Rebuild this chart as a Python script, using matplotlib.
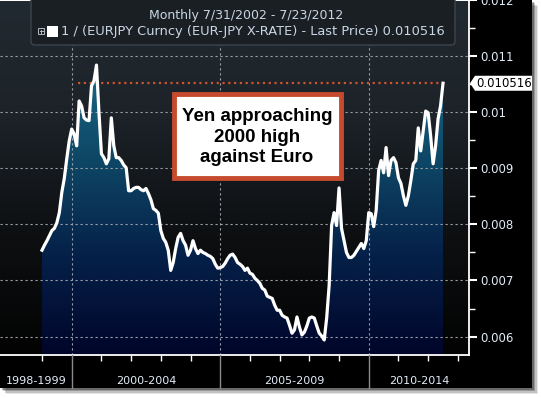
import numpy as np
import matplotlib
matplotlib.use("Agg")
import matplotlib.pyplot as plt
from matplotlib.colors import LinearSegmentedColormap
from matplotlib.patches import Rectangle, FancyBboxPatch, Polygon
from matplotlib.lines import Line2D

# monthly 1/EURJPY, Jan 1999 .. Jul 2012
first_year = 1999
rate = [
    # 1999
    0.00754, 0.00763, 0.00771, 0.00780, 0.00789, 0.00793, 0.00803, 0.00821, 0.00857, 0.00882, 0.00917, 0.00949,
    # 2000
    0.00970, 0.00961, 0.00940, 0.01020, 0.01011, 0.00990, 0.00986, 0.00985, 0.01047, 0.01056, 0.01084, 0.01000,
    # 2001
    0.00926, 0.00919, 0.00908, 0.00917, 0.00990, 0.00940, 0.00919, 0.00919, 0.00914, 0.00906, 0.00901, 0.00860,
    # 2002
    0.00860, 0.00864, 0.00866, 0.00866, 0.00862, 0.00860, 0.00864, 0.00855, 0.00844, 0.00828, 0.00825, 0.00820,
    # 2003
    0.00789, 0.00775, 0.00768, 0.00754, 0.00718, 0.00732, 0.00757, 0.00777, 0.00784, 0.00771, 0.00763, 0.00745,
    # 2004
    0.00754, 0.00771, 0.00757, 0.00748, 0.00754, 0.00750, 0.00748, 0.00745, 0.00743, 0.00739, 0.00729, 0.00722,
    # 2005
    0.00723, 0.00725, 0.00731, 0.00739, 0.00745, 0.00747, 0.00741, 0.00732, 0.00729, 0.00725, 0.00718, 0.00722,
    # 2006
    0.00713, 0.00711, 0.00704, 0.00700, 0.00695, 0.00686, 0.00683, 0.00672, 0.00670, 0.00668, 0.00656, 0.00647,
    # 2007
    0.00647, 0.00638, 0.00635, 0.00633, 0.00620, 0.00606, 0.00612, 0.00635, 0.00617, 0.00603, 0.00608, 0.00619,
    # 2008
    0.00633, 0.00635, 0.00633, 0.00619, 0.00606, 0.00601, 0.00594, 0.00633, 0.00691, 0.00798, 0.00821, 0.00798,
    # 2009
    0.00865, 0.00793, 0.00771, 0.00750, 0.00741, 0.00741, 0.00745, 0.00752, 0.00759, 0.00766, 0.00757, 0.00771,
    # 2010
    0.00821, 0.00819, 0.00796, 0.00825, 0.00896, 0.00914, 0.00892, 0.00937, 0.00887, 0.00914, 0.00919, 0.00910,
    # 2011
    0.00883, 0.00873, 0.00851, 0.00834, 0.00851, 0.00878, 0.00908, 0.00914, 0.00972, 0.00931, 0.00967, 0.01002,
    # 2012
    0.00999, 0.00958, 0.00908, 0.00940, 0.00988, 0.01011, 0.010516,
]
last_price = 0.010516

year_ticks = list(range(1999, 2014))
separators = [2000, 2005, 2010]
period_labels = ["1998-1999", "2000-2004", "2005-2009", "2010-2014"]
y_ticks = [0.006, 0.007, 0.008, 0.009, 0.01, 0.011, 0.012]
y_tick_labels = ["0.006", "0.007", "0.008", "0.009", "0.01", "0.011", "0.012"]
header = "Monthly 7/31/2002 - 7/23/2012"
legend_text = "1 / (EURJPY Curncy (EUR-JPY X-RATE) - Last Price) 0.010516"
note = "Yen approaching\n2000 high\nagainst Euro"

W, H = 541, 398
def fx(x): return x / W
def fy(y): return 1 - y / H

def m(yr):
    return (yr - first_year) * 12

fig = plt.figure(figsize=(W / 100, H / 100), dpi=100)
fig.patch.set_facecolor("white")

# drop shadow + black panel
for k, a in enumerate([0.10, 0.15, 0.22, 0.30]):
    off = 6 - k * 1.5
    fig.patches.append(Rectangle((fx(off), fy(388 + off)), fx(532), 388 / H,
                                 transform=fig.transFigure, color="black",
                                 alpha=a, lw=0, zorder=-3))
fig.patches.append(Rectangle((0, fy(388)), fx(532), 388 / H, transform=fig.transFigure,
                             color="black", lw=0, zorder=-2))

ax = fig.add_axes([0, fy(355), fx(469), 355 / H])
ax.set_zorder(1)
x = np.arange(len(rate))
xmin, xmax = -16.97, 172.5
ymin, ymax = 0.005672, 0.011977

# background gradient
bg = LinearSegmentedColormap.from_list("bg", ["#030303", "#0d0f11", "#1c2228", "#222a31"])
ax.imshow(np.linspace(0, 1, 256).reshape(-1, 1), extent=[xmin, xmax, ymin, ymax],
          origin="lower", aspect="auto", cmap=bg, zorder=0)

# gradient fill under the line
poly = ax.fill_between(x, rate, ymin, color="none", lw=0)
fill_cmap = LinearSegmentedColormap.from_list("fill", ["#01052a", "#052048", "#0e4766", "#1a6886"])
im = ax.imshow(np.linspace(0, 1, 256).reshape(-1, 1), extent=[x[0], x[-1], ymin, 0.0109],
               origin="lower", aspect="auto", cmap=fill_cmap, zorder=1)
im.set_clip_path(poly.get_paths()[0], transform=ax.transData)

# grid
for v in y_ticks[:-1]:
    ax.axhline(v, color="#9aa0a8", lw=0.8, ls=(0, (2, 2.5)), zorder=1.5)
for s in separators:
    ax.axvline(m(s), color="#9aa0a8", lw=0.8, ls=(0, (2, 2.5)), zorder=1.5)

ax.plot(x, rate, color="white", lw=2.3, zorder=3, solid_joinstyle="round")
ax.plot([14.5, 163.6], [last_price, last_price], color="#d0522e", lw=1.6,
        ls=(0, (1, 1.6)), zorder=2.5)

ax.set_xlim(xmin, xmax)
ax.set_ylim(ymin, ymax)

for sp in ["left", "top"]:
    ax.spines[sp].set_visible(False)
for sp in ["right", "bottom"]:
    ax.spines[sp].set_color("white")
    ax.spines[sp].set_linewidth(1.3)

ax.yaxis.tick_right()
ax.set_yticks(y_ticks)
ax.set_yticklabels(y_tick_labels)
ax.set_yticks([v + 0.0005 for v in y_ticks[:-1]], minor=True)
ax.tick_params(axis="y", which="major", colors="white", length=6, width=1.5,
               labelcolor="#e2ecf8", labelsize=8.5, pad=2)
ax.tick_params(axis="y", which="minor", colors="white", length=4, width=1)
for lbl in ax.get_yticklabels():
    lbl.set_clip_on(False)

ax.set_xticks([m(y) for y in year_ticks if y not in separators])
ax.set_xticklabels([])
ax.tick_params(axis="x", colors="white", length=4, width=1)

# period separators and labels below the axis
for s in separators:
    xp = ax.transData.transform((m(s), ymin))[0]
    fig.add_artist(Line2D([xp / W, xp / W], [fy(355), fy(388)], transform=fig.transFigure,
                          color="#8a8a8a", lw=1, zorder=2))
bounds = [0] + [ax.transData.transform((m(s), ymin))[0] for s in separators] + [469]
for lab, a, b in zip(period_labels, bounds[:-1], bounds[1:]):
    fig.text(fx((a + b) / 2), fy(381), lab, ha="center", va="center",
             color="#e2ecf8", fontsize=8, zorder=2)

# header legend box
fig.patches.append(FancyBboxPatch((fx(31), fy(45)), fx(424), 55 / H,
                                  boxstyle="round,pad=0,rounding_size=0.008",
                                  transform=fig.transFigure, fc="#1a1f24",
                                  ec="#3c444c", lw=1, zorder=5))
fig.text(fx(246), fy(15), header, ha="center", va="center", color="#c8d6e4",
         fontsize=9, zorder=6)
fig.patches.append(Rectangle((fx(38), fy(34)), fx(6), 6 / H, transform=fig.transFigure,
                             fc="none", ec="#b0b8c0", lw=0.7, zorder=6))
fig.add_artist(Line2D([fx(39.5), fx(42.5)], [fy(31), fy(31)], transform=fig.transFigure,
                      color="#b0b8c0", lw=0.7, zorder=6))
fig.add_artist(Line2D([fx(41), fx(41)], [fy(29.5), fy(32.5)], transform=fig.transFigure,
                      color="#b0b8c0", lw=0.7, zorder=6))
fig.patches.append(Rectangle((fx(47), fy(37)), fx(11), 11 / H, transform=fig.transFigure,
                             fc="white", lw=0, zorder=6))
fig.text(fx(61), fy(32), legend_text, ha="left", va="center", color="#c8d6e4",
         fontsize=9.4, zorder=6)

# annotation
fig.patches.append(Rectangle((fx(174), fy(178)), fx(167), 84 / H, transform=fig.transFigure,
                             fc="white", ec="#c64b2e", lw=3.5, zorder=6))
fig.text(fx(257), fy(137), note, ha="center", va="center", fontsize=13.5,
         fontweight="bold", family="Liberation Sans", color="black",
         linespacing=1.25, zorder=7)

# last price tag
ytag = H - ax.transData.transform((0, last_price))[1]
tag = [(470, ytag), (475, ytag - 7.5), (532, ytag - 7.5), (532, ytag + 7.5), (475, ytag + 7.5)]
fig.patches.append(Polygon([(fx(a), fy(b)) for a, b in tag], closed=True,
                           transform=fig.transFigure, fc="white", lw=0, zorder=6))
fig.text(fx(476), fy(ytag), "0.010516", ha="left", va="center", color="black",
         fontsize=8.5, zorder=7)

fig.savefig("out.png", dpi=100)
